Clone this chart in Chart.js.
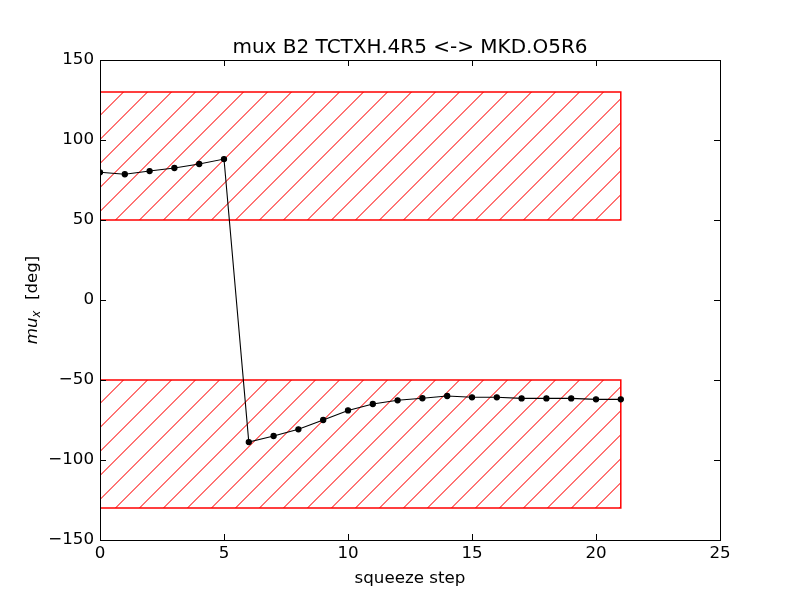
<!DOCTYPE html>
<html>
<head>
<meta charset="utf-8">
<script src="https://cdn.jsdelivr.net/npm/chart.js@4.4.1/dist/chart.umd.min.js"></script>
<style>
    html, body { margin: 0; padding: 0; background: #fff; }
    #wrap { width: 800px; height: 600px; }
</style>
</head>
<body>
<div id="wrap"><canvas id="chart" width="800" height="600"></canvas></div>
<script>
// squeeze steps and phase advance values
const steps = [0, 1, 2, 3, 4, 5, 6, 7, 8, 9, 10, 11, 12, 13, 14, 15, 16, 17, 18, 19, 20, 21];
const muxDeg = [79.8, 78.6, 80.6, 82.5, 85.0, 88.1, -88.8, -85.0, -80.8, -75.0, -69.0, -65.0,
                -62.7, -61.4, -60.0, -60.8, -60.8, -61.5, -61.5, -61.5, -62.1, -62.1];

// forbidden bands (hatched boxes)
const bandX = [0, 21];
const upperBand = [50, 130];
const lowerBand = [-130, -50];

const xTicks = [0, 5, 10, 15, 20, 25];
const yTicks = [-150, -100, -50, 0, 50, 100, 150];

const titleText = 'mux B2 TCTXH.4R5 <-> MKD.O5R6';
const xLabel = 'squeeze step';

const FONT = '"DejaVu Sans", sans-serif';

// tile with one "/" diagonal, drawn pixel by pixel so it stays red and crisp
function makeHatch() {
    const s = 24;
    const c = document.createElement('canvas');
    c.width = s; c.height = s;
    const g = c.getContext('2d');
    g.clearRect(0, 0, s, s);
    g.fillStyle = 'rgba(255,0,0,0.55)';
    for (let i = 0; i < s; i++) {
        g.fillRect(i, s - 1 - i, 1, 1);
        g.fillRect(i, (2 * s - 2 - i) % s, 1, 1);
    }
    return g.createPattern(c, 'repeat');
}

const ctx = document.getElementById('chart').getContext('2d');
const hatch = makeHatch();

function bandDatasets(band) {
    const top = bandX.map(x => ({ x: x, y: band[1] }));
    const outline = [
        { x: bandX[0], y: band[0] }, { x: bandX[0], y: band[1] },
        { x: bandX[1], y: band[1] }, { x: bandX[1], y: band[0] },
        { x: bandX[0], y: band[0] }
    ];
    return [
        { data: top, borderWidth: 0, borderColor: 'rgba(0,0,0,0)', pointRadius: 0,
          backgroundColor: hatch, fill: { value: band[0] }, order: 3 },
        { data: outline, borderColor: '#ff0000', borderWidth: 1.5, pointRadius: 0, fill: false, order: 2 }
    ];
}

// inward ticks on all four sides, plus the frame, title and y label
const framePlugin = {
    id: 'frame',
    afterDraw(chart) {
        const c = chart.ctx;
        const a = chart.chartArea;
        const xs = chart.scales.x, ys = chart.scales.y;
        c.save();
        c.strokeStyle = '#000';
        c.lineWidth = 1;
        c.strokeRect(a.left + 0.5, a.top + 0.5, a.right - a.left, a.bottom - a.top);
        c.beginPath();
        xs.ticks.forEach(t => {
            const px = Math.round(xs.getPixelForValue(t.value)) + 0.5;
            c.moveTo(px, a.bottom); c.lineTo(px, a.bottom - 6);
            c.moveTo(px, a.top); c.lineTo(px, a.top + 6);
        });
        ys.ticks.forEach(t => {
            const py = Math.round(ys.getPixelForValue(t.value)) + 0.5;
            c.moveTo(a.left, py); c.lineTo(a.left + 6, py);
            c.moveTo(a.right, py); c.lineTo(a.right - 6, py);
        });
        c.stroke();

        // title
        c.fillStyle = '#000';
        c.font = '20px ' + FONT;
        c.textAlign = 'center';
        c.textBaseline = 'alphabetic';
        c.fillText(titleText, (a.left + a.right) / 2, 53);

        // y label: math italic mu with subscript x, then [deg]
        c.translate(31, (a.top + a.bottom) / 2);
        c.rotate(-Math.PI / 2);
        c.textAlign = 'left';
        const fMu = 'italic 16.7px ' + FONT;
        const fSub = 'italic 11.5px ' + FONT;
        const fTxt = '16.7px ' + FONT;
        c.font = fMu; const wMu = c.measureText('mu').width;
        c.font = fSub; const wSub = c.measureText('x').width;
        c.font = fTxt; const wTxt = c.measureText('  [deg]').width;
        let x0 = -(wMu + wSub + wTxt) / 2;
        const base = 6;
        c.font = fMu; c.fillText('mu', x0, base); x0 += wMu;
        c.font = fSub; c.fillText('x', x0, base + 3); x0 += wSub;
        c.font = fTxt; c.fillText('  [deg]', x0, base);
        c.restore();
    }
};

const fmt = v => (v < 0 ? '\u2212' + Math.abs(v) : String(v));

new Chart(ctx, {
    type: 'line',
    data: {
        datasets: [
            { data: steps.map((s, i) => ({ x: s, y: muxDeg[i] })), borderColor: '#000', borderWidth: 1.1,
              pointRadius: 2.6, pointBackgroundColor: '#000', pointBorderColor: '#000', fill: false, order: 1 },
            ...bandDatasets(upperBand),
            ...bandDatasets(lowerBand)
        ]
    },
    options: {
        responsive: false,
        animation: false,
        devicePixelRatio: 1,
        layout: { padding: { top: 60, right: 80, left: 0, bottom: 0 } },
        plugins: { legend: { display: false }, tooltip: { enabled: false } },
        elements: { line: { tension: 0 } },
        scales: {
            x: {
                type: 'linear', min: 0, max: 25,
                afterBuildTicks: s => { s.ticks = xTicks.map(v => ({ value: v })); },
                afterFit: s => { s.height = 60; },
                grid: { display: false, drawTicks: false },
                border: { display: false },
                ticks: { color: '#000', padding: 4, font: { family: FONT, size: 16.7 }, callback: fmt, maxRotation: 0 },
                title: { display: true, text: xLabel, color: '#000', font: { family: FONT, size: 16.7 },
                         padding: { top: 4, bottom: 11 } }
            },
            y: {
                type: 'linear', min: -150, max: 150,
                afterBuildTicks: s => { s.ticks = yTicks.map(v => ({ value: v })); },
                afterFit: s => { s.width = 100; },
                grid: { display: false, drawTicks: false },
                border: { display: false },
                ticks: { color: '#000', padding: 6, font: { family: FONT, size: 16.7 }, callback: fmt }
            }
        }
    },
    plugins: [framePlugin]
});
</script>
</body>
</html>
